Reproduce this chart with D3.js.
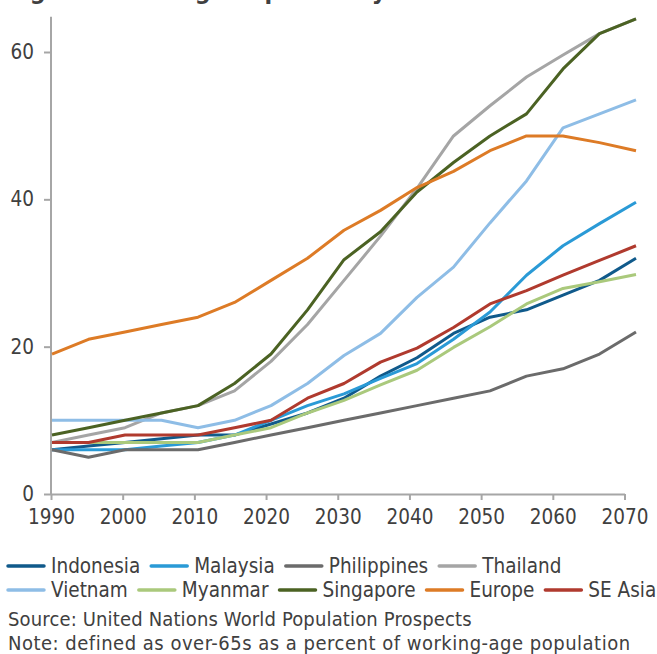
<!DOCTYPE html>
<html>
<head>
<meta charset="utf-8">
<script src="https://cdn.jsdelivr.net/npm/d3@7"></script>
<style>
  body { margin: 0; background: #fff; }
  svg { display: block; }
  text { font-family: "DejaVu Sans Condensed", "DejaVu Sans", sans-serif; fill: #404040; }
</style>
</head>
<body>
<div id="chart"></div>
<script>
"use strict";

// chart values
var years = [1990, 1995, 2000, 2005, 2010, 2015, 2020, 2025, 2030, 2035, 2040, 2045, 2050, 2055, 2060, 2065, 2070];
var axisYears = [1990, 2000, 2010, 2020, 2030, 2040, 2050, 2060, 2070];
var yTicks = [0, 20, 40, 60];

var indonesia = [6, 6.5, 7, 7.5, 8, 8, 9.5, 11, 13, 16, 18.5, 21.8, 24, 25, 27, 29, 32];
var malaysia = [6, 6, 6, 6.5, 7, 8, 10, 12, 13.6, 15.7, 17.7, 21, 24.7, 29.7, 33.7, 36.7, 39.6];
var philippines = [6, 5, 6, 6, 6, 7, 8, 9, 10, 11, 12, 13, 14, 16, 17, 19, 22];
var thailand = [7, 8, 9, 11, 12, 14, 18, 23, 29, 35, 41.5, 48.6, 52.7, 56.6, 59.6, 62.5, 64.5];
var vietnam = [10, 10, 10, 10, 9, 10, 12, 15, 18.8, 21.8, 26.7, 30.8, 36.8, 42.5, 49.7, 51.6, 53.5];
var myanmar = [7, 7, 7, 7, 7, 8, 9, 11, 12.7, 14.8, 16.8, 19.9, 22.7, 25.8, 27.9, 28.8, 29.8];
var singapore = [8, 9, 10, 11, 12, 15, 19, 25, 31.8, 35.6, 41, 45, 48.6, 51.6, 57.7, 62.5, 64.5];
var europe = [19, 21, 22, 23, 24, 26, 29, 32, 35.8, 38.5, 41.6, 43.8, 46.6, 48.6, 48.6, 47.7, 46.6];
var seAsia = [7, 7, 8, 8, 8, 9, 10, 13, 15, 17.9, 19.8, 22.6, 25.8, 27.6, 29.7, 31.7, 33.7];

var seriesNames = ["Indonesia", "Malaysia", "Philippines", "Thailand", "Vietnam", "Myanmar", "Singapore", "Europe", "SE Asia"];
var seriesValues = [indonesia, malaysia, philippines, thailand, vietnam, myanmar, singapore, europe, seAsia];
var seriesColors = ["#105a8b", "#2a9ad6", "#6b6b6b", "#a5a5a5", "#8ebde6", "#aac97c", "#4b6223", "#dd7b26", "#b03a2e"];

var width = 657;
var height = 654;
var axisColor = "#a6a6a6";

var svg = d3.select("#chart").append("svg")
  .attr("width", width)
  .attr("height", height);

// title sits mostly above the visible area, only its descenders show (as in the source)
svg.append("text")
  .attr("x", 7)
  .attr("y", -1)
  .style("font-family", "'DejaVu Sans', sans-serif")
  .style("font-weight", "bold")
  .style("font-size", "22.3px")
  .text("Figure 1: Old-age dependency ratio");

// scales: data points and the labelled axis don't line up exactly in the source
var x = d3.scalePoint().domain(years).range([52, 636]);
var xAxisScale = d3.scaleLinear().domain([1990, 2070]).range([51, 624.5]);
var y = d3.scaleLinear().domain([0, 60]).range([494, 52]);
var yTop = 64.8;

// axes
var xAxis = d3.axisBottom(xAxisScale).tickValues(axisYears).tickFormat(d3.format("d"))
  .tickSize(6).tickSizeOuter(0).tickPadding(9);
var yAxis = d3.axisLeft(y).tickValues(yTicks).tickSize(7).tickSizeOuter(0).tickPadding(10);

var gx = svg.append("g").attr("class", "x axis").attr("transform", "translate(0," + y(0) + ")").call(xAxis);
var gy = svg.append("g").attr("class", "y axis").attr("transform", "translate(" + xAxisScale(1990) + ",0)").call(yAxis);

// extend y axis line to the top of the plot
gy.select(".domain").attr("d", "M0," + y(yTop) + "V" + y(0));

svg.selectAll(".axis .domain, .axis line")
  .attr("stroke", axisColor)
  .attr("stroke-width", 2);
svg.selectAll(".axis text")
  .style("font-size", "20.5px")
  .attr("fill", "#404040");

// lines
var line = d3.line()
  .x(function (d, i) { return x(years[i]); })
  .y(function (d) { return y(d); });

svg.append("g").attr("class", "lines").selectAll("path")
  .data(seriesValues)
  .enter().append("path")
  .attr("d", line)
  .attr("fill", "none")
  .attr("stroke", function (d, i) { return seriesColors[i]; })
  .attr("stroke-width", 3)
  .attr("stroke-linejoin", "round");

// legend, two rows laid out like flowing text
var legendRows = [[0, 1, 2, 3], [4, 5, 6, 7, 8]];
var legendY = [566, 590];
var legend = svg.append("g").attr("class", "legend");

legendRows.forEach(function (row, r) {
  var cx = 8;
  row.forEach(function (idx) {
    legend.append("line")
      .attr("x1", cx).attr("x2", cx + 36)
      .attr("y1", legendY[r]).attr("y2", legendY[r])
      .attr("stroke", seriesColors[idx])
      .attr("stroke-width", 3.5)
      .attr("stroke-linecap", "round");
    var t = legend.append("text")
      .attr("x", cx + 43)
      .attr("y", legendY[r])
      .attr("dy", "0.35em")
      .style("font-size", "20.5px")
      .text(seriesNames[idx]);
    cx = cx + 43 + t.node().getComputedTextLength() + 11;
  });
});

// footnotes
svg.append("text")
  .attr("x", 8).attr("y", 626)
  .style("font-size", "20px")
  .style("letter-spacing", "0.15px")
  .text("Source: United Nations World Population Prospects");

svg.append("text")
  .attr("x", 8).attr("y", 650)
  .style("font-size", "20px")
  .style("letter-spacing", "0.5px")
  .text("Note: defined as over-65s as a percent of working-age population");
</script>
</body>
</html>
